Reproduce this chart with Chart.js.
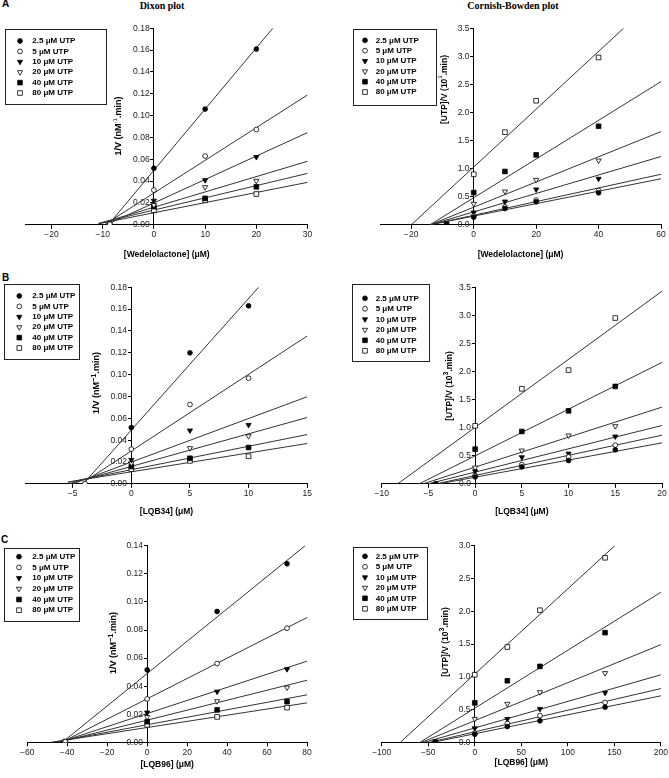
<!DOCTYPE html>
<html>
<head>
<meta charset="utf-8">
<script src="https://cdn.jsdelivr.net/npm/chart.js@4"></script>
<style>
  body { margin: 0; background: #fff; width: 669px; height: 778px; overflow: hidden; position: relative;
         font-family: "Liberation Sans", Arial, sans-serif; }
  canvas { position: absolute; left: 0; top: 0; }
  .lab { position: absolute; font-weight: bold; font-size: 10px; line-height: 12px; }
  .ttl { position: absolute; font-family: "Liberation Serif", "Times New Roman", serif; font-weight: bold;
         font-size: 10px; line-height: 12px; white-space: nowrap; transform: translateX(-50%); }
</style>
</head>
<body>
<div class="lab" style="left:2px; top:-2px">A</div>
<div class="lab" style="left:2px; top:272px">B</div>
<div class="lab" style="left:1px; top:534px">C</div>
<div class="ttl" style="left:162px; top:0px">Dixon plot</div>
<div class="ttl" style="left:513px; top:0px">Cornish-Bowden plot</div>

<canvas id="aL" width="669" height="778"></canvas>
<canvas id="aR" width="669" height="778"></canvas>
<canvas id="bL" width="669" height="778"></canvas>
<canvas id="bR" width="669" height="778"></canvas>
<canvas id="cL" width="669" height="778"></canvas>
<canvas id="cR" width="669" height="778"></canvas>

<script>
const series = ['2.5 μM UTP', '5 μM UTP', '10 μM UTP', '20 μM UTP', '40 μM UTP', '80 μM UTP'];

// A - Wedelolactone, Dixon
const wedDixonX = [-8.6, 0, 10, 20];
const wedDixonY = [
  [null, 0.0518, 0.106, 0.161],
  [0.0005, 0.0318, 0.063, 0.0873],
  [null, 0.0221, 0.0409, 0.0621],
  [null, 0.018, 0.0345, 0.0403],
  [null, 0.0167, 0.0242, 0.0348],
  [0.0003, 0.0133, 0.0224, 0.0282]
];
const wedDixonFrom = [[-8.9, 0], [-9.7, 0], [-9.3, 0], [-10.8, 0.0009], [-10.8, 0.0014], [-10.8, 0.001]];
const wedDixonTo = [[23.2, 0.18], [30, 0.119], [30, 0.0845], [30, 0.0582], [30, 0.0471], [30, 0.0389]];
const wedDixonXTicks = [-20, -10, 0, 10, 20, 30];
const dixonYTicks18 = [0, 0.02, 0.04, 0.06, 0.08, 0.10, 0.12, 0.14, 0.16, 0.18];

// A - Wedelolactone, Cornish-Bowden
const wedCbX = [-8.7, 0, 10, 20, 40];
const wedCbY = [
  [null, 0.136, 0.29, 0.41, 0.57],
  [null, 0.16, 0.32, 0.44, 0.61],
  [null, 0.22, 0.415, 0.63, 0.82],
  [null, 0.374, 0.593, 0.80, 1.145],
  [0.01, 0.575, 0.95, 1.245, 1.755],
  [null, 0.90, 1.65, 2.21, 2.98]
];
const wedCbFrom = [[-14, 0], [-14, 0], [-14, 0], [-14, 0], [-14, 0], [-20, 0]];
const wedCbTo = [[60, 0.82], [60, 0.90], [60, 1.216], [60, 1.66], [60, 2.55], [48, 3.5]];
const wedCbXTicks = [-20, 0, 20, 40, 60];
const cbYTicks35 = [0, 0.5, 1.0, 1.5, 2.0, 2.5, 3.0, 3.5];

// B - LQB34, Dixon
const lqb34DixonX = [-3.95, 0, 5, 10];
const lqb34DixonY = [
  [null, 0.0516, 0.120, 0.163],
  [0.0003, 0.0318, 0.0727, 0.0968],
  [null, 0.022, 0.0489, 0.054],
  [null, 0.019, 0.0327, 0.0437],
  [null, 0.0159, 0.0235, 0.0333],
  [null, 0.0134, 0.0211, 0.0253]
];
const lqb34DixonFrom = [[-4.1, 0], [-4.3, 0], [-5.0, 0], [-5.35, 0], [-5.4, 0.0014], [-5.4, 0.0017]];
const lqb34DixonTo = [[10.85, 0.18], [15, 0.1354], [15, 0.0798], [15, 0.0608], [15, 0.0452], [15, 0.037]];
const lqb34DixonXTicks = [-5, 0, 5, 10, 15];

// B - LQB34, Cornish-Bowden
const lqb34CbX = [-4.2, 0, 5, 10, 15];
const lqb34CbY = [
  [0.005, 0.125, 0.303, 0.416, 0.606],
  [null, 0.149, 0.345, 0.48, 0.69],
  [null, 0.226, 0.475, 0.54, 0.844],
  [null, 0.29, 0.594, 0.862, 1.028],
  [null, 0.618, 0.933, 1.301, 1.735],
  [null, 1.034, 1.693, 2.026, 2.953]
];
const lqb34CbFrom = [[-3.9, 0], [-4.2, 0], [-5.06, 0], [-5.6, 0], [-6.0, 0], [-8.3, 0]];
const lqb34CbTo = [[20, 0.731], [20, 0.867], [20, 1.04], [20, 1.367], [20, 2.163], [20, 3.43]];
const lqb34CbXTicks = [-10, -5, 0, 5, 10, 15, 20];

// C - LQB96, Dixon
const lqb96DixonX = [-41, 0, 35, 70];
const lqb96DixonY = [
  [null, 0.0516, 0.0932, 0.1272],
  [0.0005, 0.0309, 0.0561, 0.0813],
  [null, 0.0212, 0.0361, 0.0521],
  [null, 0.018, 0.0293, 0.039],
  [null, 0.0147, 0.0231, 0.029],
  [0.0005, 0.0124, 0.0181, 0.0247]
];
const lqb96DixonFrom = [[-42.5, 0], [-42.8, 0], [-44, 0], [-44.5, 0], [-47, 0], [-48, 0]];
const lqb96DixonTo = [[79, 0.14], [80, 0.0889], [80, 0.0578], [80, 0.0442], [80, 0.0338], [80, 0.0281]];
const lqb96DixonXTicks = [-60, -40, -20, 0, 20, 40, 60, 80];
const dixonYTicks14 = [0, 0.02, 0.04, 0.06, 0.08, 0.10, 0.12, 0.14];

// C - LQB96, Cornish-Bowden
const lqb96CbX = [-42.4, 0, 35, 70, 140];
const lqb96CbY = [
  [null, 0.122, 0.24, 0.327, 0.536],
  [null, 0.138, 0.286, 0.408, 0.607],
  [null, 0.214, 0.357, 0.51, 0.755],
  [null, 0.357, 0.587, 0.765, 1.056],
  [0.005, 0.602, 0.939, 1.158, 1.673],
  [null, 1.031, 1.454, 2.015, 2.816]
];
const lqb96CbFrom = [[-45, 0], [-48.5, 0], [-54, 0], [-57, 0], [-58.8, 0], [-80, 0]];
const lqb96CbTo = [[200, 0.709], [200, 0.82], [200, 1.03], [200, 1.49], [200, 2.29], [150.5, 3.0]];
const lqb96CbXTicks = [-100, -50, 0, 50, 100, 150, 200];
const cbYTicks30 = [0, 0.5, 1.0, 1.5, 2.0, 2.5, 3.0];

const markers = [
  { style: 'circle', r: 2.4, rot: 0, fill: '#000' },
  { style: 'circle', r: 2.4, rot: 0, fill: '#fff' },
  { style: 'triangle', r: 3.0, rot: 180, fill: '#000' },
  { style: 'triangle', r: 3.0, rot: 180, fill: '#fff' },
  { style: 'rect', r: 3.3, rot: 0, fill: '#000' },
  { style: 'rect', r: 3.3, rot: 0, fill: '#fff' }
];

const SANS = '"Liberation Sans", Arial, sans-serif';
const fmt = (v, d) => (v < 0 ? '\u2212' : '') + Math.abs(v).toFixed(d);

const dixonTitle = (supFont, dy) => [
  { text: '1/V (nM', font: 'bold 9px ' + SANS },
  { text: supFont[0], font: supFont[1], dy: dy },
  { text: '.min)', font: 'bold 9px ' + SANS }
];
const cbTitle = (supFont, dy) => [
  { text: '[UTP]/V (10', font: 'bold 8.5px ' + SANS },
  { text: '3', font: supFont, dy: dy },
  { text: '.min)', font: 'bold 8.5px ' + SANS }
];

const decor = {
  id: 'decor',
  afterDraw(chart, args, o) {
    const ctx = chart.ctx;
    const t = o.yTitle;
    ctx.save();
    ctx.fillStyle = '#000';
    ctx.textBaseline = 'middle';
    ctx.textAlign = 'left';
    let total = 0;
    t.parts.forEach(p => { ctx.font = p.font; p.w = ctx.measureText(p.text).width; total += p.w; });
    ctx.translate(t.x, t.y);
    ctx.rotate(-Math.PI / 2);
    let cx = -total / 2;
    t.parts.forEach(p => { ctx.font = p.font; ctx.fillText(p.text, cx, p.dy || 0); cx += p.w; });
    ctx.restore();

    const L = o.legend;
    ctx.save();
    ctx.strokeStyle = '#222';
    ctx.lineWidth = 1;
    ctx.strokeRect(Math.round(L.x) + 0.5, Math.round(L.y) + 0.5, Math.round(L.w), Math.round(L.h));
    ctx.font = 'bold 8px ' + SANS;
    ctx.textBaseline = 'middle';
    ctx.textAlign = 'left';
    series.forEach((name, i) => {
      const y = L.ry + i * L.step;
      const m = markers[i];
      ctx.fillStyle = m.fill;
      ctx.strokeStyle = '#000';
      ctx.lineWidth = 0.8;
      Chart.helpers.drawPoint(ctx, { pointStyle: m.style, radius: m.r, rotation: m.rot, borderWidth: 0.8 }, L.mx, y);
      ctx.fillStyle = '#000';
      ctx.fillText(name, L.tx, y);
    });
    ctx.restore();
  }
};

function makePanel(p) {
  const datasets = [];
  series.forEach((name, i) => {
    const m = markers[i];
    datasets.push({
      label: name,
      data: p.xs.map((x, j) => ({ x: x, y: p.ys[i][j] })),
      pointStyle: m.style,
      pointRadius: m.r,
      pointRotation: m.rot,
      pointBackgroundColor: m.fill,
      pointBorderColor: '#000',
      pointBorderWidth: 0.8,
      order: 0
    });
  });
  series.forEach((name, i) => {
    datasets.push({
      label: name + ' fit',
      data: [{ x: p.from[i][0], y: p.from[i][1] }, { x: p.to[i][0], y: p.to[i][1] }],
      showLine: true,
      pointRadius: 0,
      borderColor: '#333',
      borderWidth: 1,
      order: 1
    });
  });

  const b = p.box;
  const titleSize = 8.5;
  const xh = p.xTitleY - b.b + titleSize / 2;

  new Chart(document.getElementById(p.id), {
    type: 'scatter',
    data: { datasets: datasets },
    options: {
      responsive: false,
      animation: false,
      events: [],
      layout: { padding: { left: b.l, right: 669 - b.r, top: b.t, bottom: 778 - b.b - xh } },
      plugins: {
        legend: { display: false },
        tooltip: { enabled: false },
        decor: { yTitle: p.yTitle, legend: p.legend }
      },
      scales: {
        x: {
          type: 'linear', min: p.xMin, max: p.xMax,
          afterBuildTicks: s => { s.ticks = p.xTicks.map(v => ({ value: v })); },
          afterFit: s => { s.height = xh; },
          grid: { display: true, drawOnChartArea: false, drawTicks: true, tickLength: 4, color: '#000', lineWidth: 1 },
          border: { display: true, color: '#000', width: 1 },
          ticks: { autoSkip: false, maxRotation: 0, minRotation: 0, padding: 1, color: '#222',
                   font: { family: SANS, size: 8.5 }, callback: v => fmt(v, 0) },
          title: { display: true, text: p.xTitle, color: '#000', padding: 0,
                   font: { family: SANS, size: titleSize, weight: 'bold', lineHeight: 1 } }
        },
        y: {
          type: 'linear', min: p.yMin, max: p.yMax, position: { x: 0 },
          afterBuildTicks: s => { s.ticks = p.yTicks.map(v => ({ value: v })); },
          grid: { display: true, drawOnChartArea: false, drawTicks: true, tickLength: 3, color: '#000', lineWidth: 1 },
          border: { display: true, color: '#000', width: 1 },
          // labels sit on the axis when it is placed at x = 0, so push them left with an en space
          ticks: { autoSkip: false, padding: 1, color: '#222',
                   font: { family: SANS, size: 8.5 }, callback: v => fmt(v, p.yDec) + '\u2002' },
          title: { display: false }
        }
      }
    },
    plugins: [decor]
  });
}

const supSmall = ['-1', '6px ' + SANS];
const supBig = ['\u22121', 'bold 7.5px ' + SANS];

const panels = [
  { id: 'aL', xs: wedDixonX, ys: wedDixonY, from: wedDixonFrom, to: wedDixonTo,
    xMin: -25, xMax: 30, yMin: 0, yMax: 0.18, xTicks: wedDixonXTicks, yTicks: dixonYTicks18, yDec: 2,
    box: { l: 25.8, r: 307.6, t: 28.3, b: 224.8 },
    xTitle: '[Wedelolactone] (μM)', xTitleY: 255,
    yTitle: { x: 119, y: 126, parts: dixonTitle(supSmall, -3.5) },
    legend: { x: 5, y: 29, w: 101, h: 75, mx: 20, tx: 32.3, ry: 41, step: 10.4 } },
  { id: 'aR', xs: wedCbX, ys: wedCbY, from: wedCbFrom, to: wedCbTo,
    xMin: -30, xMax: 60, yMin: 0, yMax: 3.5, xTicks: wedCbXTicks, yTicks: cbYTicks35, yDec: 1,
    box: { l: 380.1, r: 661, t: 28.3, b: 224.8 },
    xTitle: '[Wedelolactone] (μM)', xTitleY: 255,
    yTitle: { x: 444.3, y: 89.5, parts: cbTitle('6px ' + SANS, -3.5) },
    legend: { x: 352.7, y: 29, w: 83.3, h: 76, mx: 365, tx: 375.7, ry: 40.3, step: 10.35 } },
  { id: 'bL', xs: lqb34DixonX, ys: lqb34DixonY, from: lqb34DixonFrom, to: lqb34DixonTo,
    xMin: -9, xMax: 15, yMin: 0, yMax: 0.18, xTicks: lqb34DixonXTicks, yTicks: dixonYTicks18, yDec: 2,
    box: { l: 25.8, r: 307.2, t: 287.3, b: 483.9 },
    xTitle: '[LQB34] (μM)', xTitleY: 511.7,
    yTitle: { x: 96.7, y: 383, parts: dixonTitle(supBig, -3) },
    legend: { x: 4, y: 284, w: 74.7, h: 75, mx: 19.3, tx: 32.3, ry: 296, step: 10.4 } },
  { id: 'bR', xs: lqb34CbX, ys: lqb34CbY, from: lqb34CbFrom, to: lqb34CbTo,
    xMin: -10, xMax: 20, yMin: 0, yMax: 3.5, xTicks: lqb34CbXTicks, yTicks: cbYTicks35, yDec: 1,
    box: { l: 381.7, r: 662, t: 287.3, b: 483.9 },
    xTitle: '[LQB34] (μM)', xTitleY: 511.7,
    yTitle: { x: 449.3, y: 386, parts: cbTitle('bold 7px ' + SANS, -3) },
    legend: { x: 351.7, y: 284, w: 77.3, h: 77.4, mx: 365, tx: 375.7, ry: 298.3, step: 10.5 } },
  { id: 'cL', xs: lqb96DixonX, ys: lqb96DixonY, from: lqb96DixonFrom, to: lqb96DixonTo,
    xMin: -60, xMax: 80, yMin: 0, yMax: 0.14, xTicks: lqb96DixonXTicks, yTicks: dixonYTicks14, yDec: 2,
    box: { l: 27.3, r: 307, t: 545.8, b: 742.3 },
    xTitle: '[LQB96] (μM)', xTitleY: 765,
    yTitle: { x: 114, y: 643, parts: dixonTitle(supBig, -3) },
    legend: { x: 4, y: 547.5, w: 75.3, h: 72.5, mx: 19, tx: 32.3, ry: 556.7, step: 10.7 } },
  { id: 'cR', xs: lqb96CbX, ys: lqb96CbY, from: lqb96CbFrom, to: lqb96CbTo,
    xMin: -100, xMax: 200, yMin: 0, yMax: 3.0, xTicks: lqb96CbXTicks, yTicks: cbYTicks30, yDec: 1,
    box: { l: 381.7, r: 662, t: 545.7, b: 742.3 },
    xTitle: '[LQB96] (μM)', xTitleY: 762.7,
    yTitle: { x: 445.3, y: 642, parts: cbTitle('bold 7px ' + SANS, -3) },
    legend: { x: 353.3, y: 547.3, w: 74, h: 72, mx: 365, tx: 375.7, ry: 556.3, step: 10.5 } }
];

panels.forEach(makePanel);
</script>
</body>
</html>
